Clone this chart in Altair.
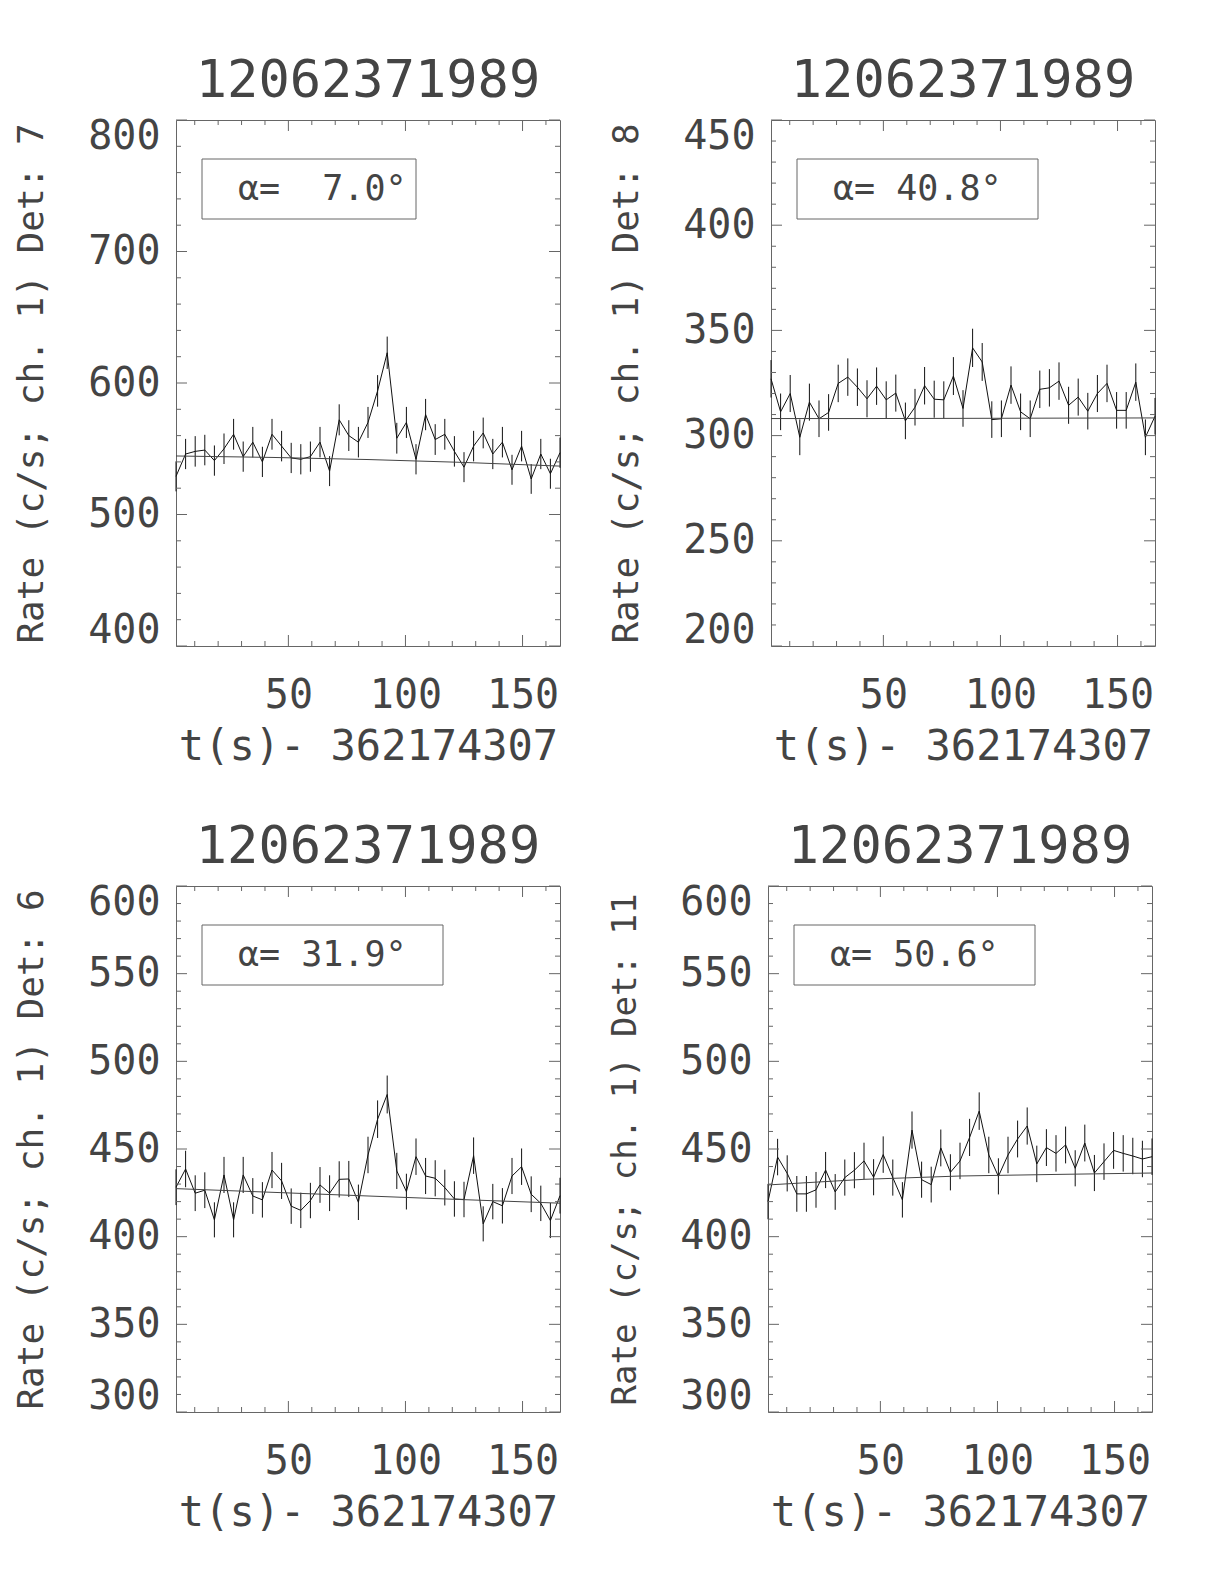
import altair as alt
import pandas as pd

# ---------------- data ----------------
t_sec = [2.0, 6.1, 10.2, 14.3, 18.4, 22.5, 26.6, 30.7, 34.8, 38.9,
         43.0, 47.1, 51.2, 55.3, 59.4, 63.5, 67.6, 71.7, 75.8, 79.9,
         84.0, 88.1, 92.2, 96.3, 100.4, 104.5, 108.6, 112.7, 116.8, 120.9,
         125.0, 129.1, 133.2, 137.3, 141.4, 145.5, 149.6, 153.7, 157.8, 161.9,
         166.0]

rate_det7 = [529, 546, 548, 549, 541, 550, 561, 544, 555, 540,
             561, 552, 543, 542, 544, 555, 533, 572, 560, 555,
             570, 594, 623, 558, 570, 542, 576, 557, 561, 548,
             536, 552, 562, 546, 555, 534, 552, 527, 546, 531,
             547]
err_det7 = [11.4, 11.5, 11.6, 11.6, 11.5, 11.6, 11.7, 11.5, 11.6, 11.5,
            11.7, 11.6, 11.5, 11.5, 11.5, 11.6, 11.4, 11.8, 11.7, 11.6,
            11.8, 12.0, 12.3, 11.7, 11.8, 11.5, 11.9, 11.7, 11.7, 11.6,
            11.4, 11.6, 11.7, 11.5, 11.6, 11.4, 11.6, 11.3, 11.5, 11.4,
            11.5]

rate_det8 = [327, 311.3, 320, 299.2, 315.9, 308, 311, 324.8, 327.8, 323,
             317.5, 323.5, 317, 320.2, 307, 313.5, 323.7, 317.3, 317, 328.3,
             312.9, 341.7, 335, 307.6, 308, 324, 311.3, 308, 322, 322.7,
             325.9, 314.4, 318.3, 311.6, 320, 324.8, 312, 312, 325.4, 299.2,
             309.2]
err_det8 = [8.9, 8.7, 8.8, 8.5, 8.8, 8.7, 8.7, 8.9, 8.9, 8.9,
            8.8, 8.9, 8.8, 8.8, 8.7, 8.7, 8.9, 8.8, 8.8, 9.0,
            8.7, 9.1, 9.0, 8.7, 8.7, 8.9, 8.7, 8.7, 8.9, 8.9,
            8.9, 8.8, 8.8, 8.7, 8.8, 8.9, 8.7, 8.7, 8.9, 8.5,
            8.7]

rate_det6 = [428.2, 438.6, 424.8, 426.5, 409.6, 435.2, 409.6, 435.2, 423.2, 421,
             438, 431.8, 417.4, 415, 420.6, 429.5, 424.8, 432.7, 432.9, 419.6,
             446.6, 467, 481.1, 437.5, 425.7, 445.6, 434.6, 433.3, 428, 421.5,
             421.2, 446.2, 407.3, 420, 417.6, 434.6, 439.9, 424.2, 419, 409.2,
             423.4]
err_det6 = [10.2, 10.4, 10.2, 10.2, 10.0, 10.3, 10.0, 10.3, 10.2, 10.1,
            10.3, 10.3, 10.1, 10.1, 10.1, 10.2, 10.2, 10.3, 10.3, 10.1,
            10.4, 10.7, 10.8, 10.3, 10.2, 10.4, 10.3, 10.3, 10.2, 10.1,
            10.1, 10.4, 10.0, 10.1, 10.1, 10.3, 10.4, 10.2, 10.1, 10.0,
            10.2]

rate_det11 = [420, 445.4, 436.1, 424.4, 424.4, 426.7, 438, 425.5, 433.7, 437.9,
              443.2, 433.9, 446.8, 433.7, 421, 460.8, 432.5, 429.7, 450.6, 436.7,
              443.2, 456.6, 471.6, 446.6, 434.4, 446.6, 455.7, 463.1, 441.5, 450.8,
              447.5, 452.3, 439, 453.4, 436.3, 442.8, 449.2, 447.5, 446, 444.3,
              445.6]
err_det11 = [10.1, 10.4, 10.3, 10.2, 10.2, 10.2, 10.3, 10.2, 10.3, 10.3,
             10.4, 10.3, 10.4, 10.3, 10.1, 10.6, 10.3, 10.2, 10.5, 10.3,
             10.4, 10.6, 10.7, 10.4, 10.3, 10.4, 10.5, 10.6, 10.4, 10.5,
             10.4, 10.5, 10.3, 10.5, 10.3, 10.4, 10.5, 10.4, 10.4, 10.4,
             10.4]

bg_t = [2.0, 43.0, 84.0, 125.0, 166.0]
bg_det7 = [544.5, 543.4, 541.8, 539.6, 536.8]
bg_det8 = [308.1, 308.1, 308.2, 308.3, 308.4]
bg_det6 = [427.4, 425.3, 423.2, 421.1, 419.1]
bg_det11 = [429.5, 432.7, 434.6, 435.5, 436.3]

burst_name = "12062371989"
t0_label = "t(s)- 362174307"
detectors = ["7", "8", "6", "11"]
alphas = ["7.0", "40.8", "31.9", "50.6"]

x_major = [50, 100, 150]
x_minor = [10, 20, 30, 40, 60, 70, 80, 90, 110, 120, 130, 140, 160]

# ---------------- style ----------------
FONT = "DejaVu Sans Mono"
TXT = "#444444"
FRAME = "#666666"
W, H = 384, 526
X_DOMAIN = [2, 166]
MAJ, MIN = 11, 5
NBSP = "\u00a0"


def panel(rate, err, bg, det, alpha, ydom, ymajor, yminor, box_w):
    df = pd.DataFrame({
        "t": t_sec,
        "rate": rate,
        "lo": [r - e for r, e in zip(rate, err)],
        "hi": [r + e for r, e in zip(rate, err)],
    })
    bgdf = pd.DataFrame({"t": bg_t, "bg": bg})
    xs = alt.Scale(domain=X_DOMAIN, nice=False, zero=False)
    ys = alt.Scale(domain=ydom, nice=False, zero=False)
    ytitle = f"Rate (c/s; ch. 1) Det: {det}"
    ytitle_size = 36 if len(ytitle) <= 24 else 34

    base = alt.Chart(df)

    errbars = base.mark_rule(color="#111111", strokeWidth=1).encode(
        x=alt.X("t:Q", scale=xs, axis=alt.Axis(
            orient="bottom", values=x_major, ticks=False, domain=False, grid=False,
            labelFont=FONT, labelFontSize=40, labelColor=TXT, labelPadding=29,
            title=t0_label, titleFont=FONT, titleFontSize=42, titleFontWeight="normal",
            titleColor=TXT, titlePadding=11)),
        y=alt.Y("lo:Q", scale=ys, axis=alt.Axis(
            orient="left", values=ymajor, ticks=False, domain=False, grid=False,
            labelFont=FONT, labelFontSize=40, labelColor=TXT,
            labelPadding=16, labelFlush=True, labelFlushOffset=4, format="d",
            title=ytitle, titleFont=FONT, titleFontSize=ytitle_size,
            titleFontWeight="normal", titleColor=TXT, titlePadding=37)),
        y2="hi:Q",
    )
    line = base.mark_line(color="#111111", strokeWidth=1).encode(
        x=alt.X("t:Q", scale=xs, axis=None),
        y=alt.Y("rate:Q", scale=ys, axis=None),
    )
    bgline = alt.Chart(bgdf).mark_line(color="#444444", strokeWidth=1).encode(
        x=alt.X("t:Q", scale=xs, axis=None),
        y=alt.Y("bg:Q", scale=ys, axis=None),
    )

    def xticks(vals, size):
        d = alt.Chart(pd.DataFrame({"v": vals}))
        bottom = d.mark_rule(color=FRAME, strokeWidth=1).encode(
            x=alt.X("v:Q", scale=xs, axis=None), y=alt.value(H), y2=alt.value(H - size))
        top = d.mark_rule(color=FRAME, strokeWidth=1).encode(
            x=alt.X("v:Q", scale=xs, axis=None), y=alt.value(0), y2=alt.value(size))
        return [bottom, top]

    def yticks(vals, size):
        d = alt.Chart(pd.DataFrame({"v": vals}))
        left = d.mark_rule(color=FRAME, strokeWidth=1).encode(
            y=alt.Y("v:Q", scale=ys, axis=None), x=alt.value(0), x2=alt.value(size))
        right = d.mark_rule(color=FRAME, strokeWidth=1).encode(
            y=alt.Y("v:Q", scale=ys, axis=None), x=alt.value(W), x2=alt.value(W - size))
        return [left, right]

    ticks = (xticks(x_major, MAJ) + xticks(x_minor, MIN)
             + yticks(ymajor, MAJ) + yticks(yminor, MIN))

    one = alt.Chart(pd.DataFrame({"k": [0]}))
    box = one.mark_rect(fillOpacity=0, stroke=FRAME, strokeWidth=1).encode(
        x=alt.value(26), x2=alt.value(26 + box_w), y=alt.value(39), y2=alt.value(99))
    label = one.mark_text(align="left", baseline="alphabetic", font=FONT,
                          fontSize=35, color=TXT).encode(
        x=alt.value(62), y=alt.value(80),
        text=alt.value("α=" + NBSP * (5 - len(alpha)) + alpha + "°"))

    return alt.layer(errbars, line, bgline, *ticks, box, label).resolve_axis(
        x="independent", y="independent"
    ).properties(
        width=W, height=H,
        title=alt.Title(burst_name, font=FONT, fontSize=52, fontWeight="normal", color=TXT,
                        anchor="middle", frame="group", baseline="alphabetic", offset=-33),
    )


p1 = panel(rate_det7, err_det7, bg_det7, detectors[0], alphas[0], [400, 800],
           [400, 500, 600, 700, 800],
           [420, 440, 460, 480, 520, 540, 560, 580, 620, 640, 660, 680, 720, 740, 760, 780], 214)
p2 = panel(rate_det8, err_det8, bg_det8, detectors[1], alphas[1], [200, 450],
           [200, 250, 300, 350, 400, 450],
           [210, 220, 230, 240, 260, 270, 280, 290, 310, 320, 330, 340, 360, 370, 380, 390,
            410, 420, 430, 440], 241)
p3 = panel(rate_det6, err_det6, bg_det6, detectors[2], alphas[2], [300, 600],
           [300, 350, 400, 450, 500, 550, 600],
           [310, 320, 330, 340, 360, 370, 380, 390, 410, 420, 430, 440, 460, 470, 480, 490,
            510, 520, 530, 540, 560, 570, 580, 590], 241)
p4 = panel(rate_det11, err_det11, bg_det11, detectors[3], alphas[3], [300, 600],
           [300, 350, 400, 450, 500, 550, 600],
           [310, 320, 330, 340, 360, 370, 380, 390, 410, 420, 430, 440, 460, 470, 480, 490,
            510, 520, 530, 540, 560, 570, 580, 590], 241)

chart = alt.vconcat(
    alt.hconcat(p1, p2, spacing=45),
    alt.hconcat(p3, p4, spacing=45),
    spacing=52,
).configure(
    padding={"left": 5, "top": 46, "right": 5, "bottom": 5},
    background="white",
).configure_view(
    stroke=FRAME, strokeWidth=1,
)

chart.save("out.html", embed_options={"renderer": "svg", "actions": False})
